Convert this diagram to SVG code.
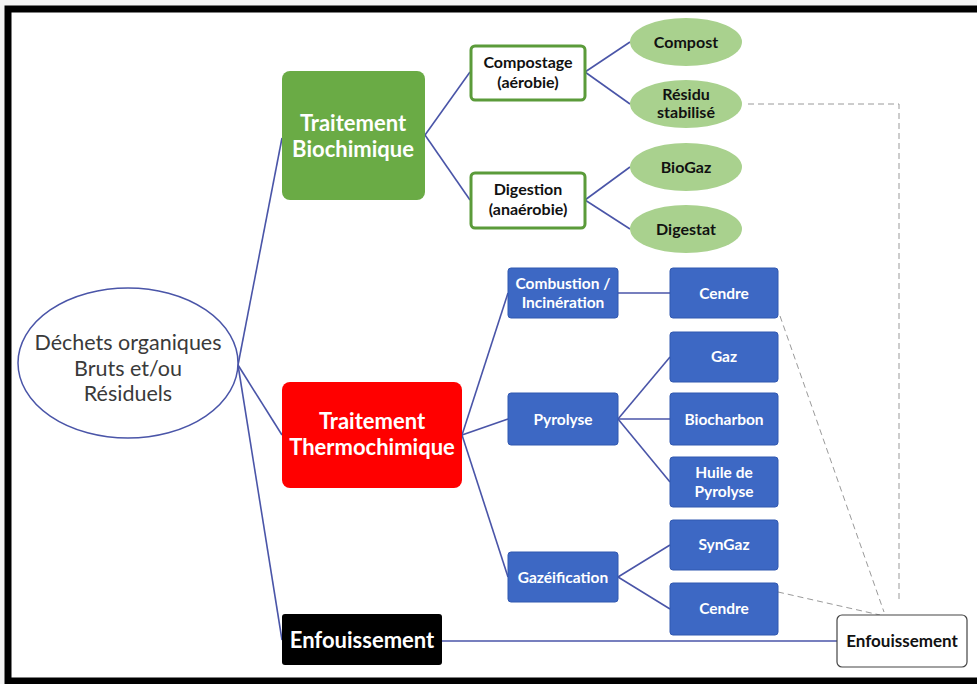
<svg xmlns="http://www.w3.org/2000/svg" width="977" height="684" viewBox="0 0 977 684">
  <defs>
    <style>
      .bg { fill: #ffffff; }
      .link { stroke: #4a55a8; stroke-width: 1.6; fill: none; }
      .dash { stroke: #9a9a9a; stroke-width: 1; stroke-dasharray: 6 4; fill: none; }
      .t { font-family: Lato, "Open Sans", "Liberation Sans", sans-serif; text-anchor: middle; }
      .big { font-size: 22px; font-weight: bold; fill: #ffffff; }
      .mid { font-size: 16px; font-weight: bold; fill: #111111; }
      .blue { fill: #3d68c4; stroke: #3158b0; stroke-width: 1; }
      .bt { font-size: 15.5px; font-weight: bold; fill: #ffffff; }
      .leaf { fill: #a9d18e; }
      .proc { fill: #ffffff; stroke: #5b9b3a; stroke-width: 3; }
    </style>
  </defs>

  <!-- page and frame -->
  <rect x="0" y="0" width="977" height="684" fill="#f4f4f4"/>
  <rect x="8" y="9" width="975" height="672" class="bg" stroke="#000" stroke-width="7"/>

  <!-- connectors -->
  <g id="connectors">
    <line class="link" x1="238" y1="365" x2="282" y2="138"/>
    <line class="link" x1="238" y1="365" x2="282" y2="435"/>
    <line class="link" x1="238" y1="365" x2="282" y2="640"/>

    <line class="link" x1="425" y1="135" x2="470" y2="72"/>
    <line class="link" x1="425" y1="135" x2="470" y2="200"/>
    <line class="link" x1="585" y1="72" x2="630" y2="42"/>
    <line class="link" x1="585" y1="72" x2="630" y2="104"/>
    <line class="link" x1="585" y1="200" x2="630" y2="167"/>
    <line class="link" x1="585" y1="200" x2="630" y2="229"/>

    <line class="link" x1="462" y1="435" x2="508" y2="293"/>
    <line class="link" x1="462" y1="435" x2="508" y2="419"/>
    <line class="link" x1="462" y1="435" x2="508" y2="577"/>
    <line class="link" x1="618" y1="293" x2="670" y2="293"/>
    <line class="link" x1="618" y1="419" x2="670" y2="357"/>
    <line class="link" x1="618" y1="419" x2="670" y2="419"/>
    <line class="link" x1="618" y1="419" x2="670" y2="482"/>
    <line class="link" x1="618" y1="577" x2="670" y2="545"/>
    <line class="link" x1="618" y1="577" x2="670" y2="609"/>

    <line class="link" x1="442" y1="641" x2="837" y2="641"/>

    <polyline class="dash" points="748,104 899,104 899,600"/>
    <line class="dash" x1="780" y1="316" x2="884" y2="612"/>
    <line class="dash" x1="778" y1="592" x2="880" y2="615"/>
  </g>

  <g id="dechets">
    <ellipse cx="128" cy="363" rx="110" ry="75" fill="#ffffff" stroke="#4a55a8" stroke-width="1.5"/>
    <text class="t" x="128" y="350" font-size="21.5" fill="#3a3a3a">Déchets organiques</text>
    <text class="t" x="128" y="376" font-size="21.5" fill="#3a3a3a">Bruts et/ou</text>
    <text class="t" x="128" y="401" font-size="21.5" fill="#3a3a3a">Résiduels</text>
  </g>

  <g id="biochimique">
    <rect x="282" y="71" width="143" height="129" rx="8" fill="#6aab45"/>
    <text class="t big" x="353" y="131">Traitement</text>
    <text class="t big" x="353" y="157">Biochimique</text>
  </g>

  <g id="thermochimique">
    <rect x="282" y="382" width="180" height="106" rx="8" fill="#ff0000"/>
    <text class="t big" x="372" y="429">Traitement</text>
    <text class="t big" x="372" y="455">Thermochimique</text>
  </g>

  <g id="enfouissement-traitement">
    <rect x="282" y="614" width="160" height="51" rx="3" fill="#000000"/>
    <text class="t big" x="362" y="648">Enfouissement</text>
  </g>

  <g id="compostage">
    <rect class="proc" x="471" y="46" width="114" height="54" rx="4"/>
    <text class="t mid" x="528" y="68">Compostage</text>
    <text class="t mid" x="528" y="88">(aérobie)</text>
  </g>

  <g id="digestion">
    <rect class="proc" x="471" y="173" width="114" height="55" rx="4"/>
    <text class="t mid" x="528" y="195">Digestion</text>
    <text class="t mid" x="528" y="215">(anaérobie)</text>
  </g>

  <g id="compost">
    <ellipse class="leaf" cx="686" cy="42" rx="56" ry="24"/>
    <text class="t mid" x="686" y="48">Compost</text>
  </g>
  <g id="residu">
    <ellipse class="leaf" cx="686" cy="104" rx="56" ry="24"/>
    <text class="t mid" x="686" y="100" font-size="14.5">Résidu</text>
    <text class="t mid" x="686" y="118" font-size="14.5">stabilisé</text>
  </g>
  <g id="biogaz">
    <ellipse class="leaf" cx="686" cy="167" rx="56" ry="24"/>
    <text class="t mid" x="686" y="173">BioGaz</text>
  </g>
  <g id="digestat">
    <ellipse class="leaf" cx="686" cy="229" rx="56" ry="24"/>
    <text class="t mid" x="686" y="235">Digestat</text>
  </g>

  <g id="combustion">
    <rect class="blue" x="508" y="268" width="110" height="50" rx="3"/>
    <text class="t bt" x="563" y="289">Combustion /</text>
    <text class="t bt" x="563" y="308">Incinération</text>
  </g>
  <g id="pyrolyse">
    <rect class="blue" x="508" y="393" width="110" height="52" rx="3"/>
    <text class="t bt" x="563" y="425">Pyrolyse</text>
  </g>
  <g id="gazeification">
    <rect class="blue" x="508" y="552" width="110" height="50" rx="3"/>
    <text class="t bt" x="563" y="583">Gazéification</text>
  </g>

  <g id="cendre-combustion">
    <rect class="blue" x="670" y="268" width="108" height="50" rx="3"/>
    <text class="t bt" x="724" y="299">Cendre</text>
  </g>
  <g id="gaz">
    <rect class="blue" x="670" y="332" width="108" height="50" rx="3"/>
    <text class="t bt" x="724" y="362">Gaz</text>
  </g>
  <g id="biocharbon">
    <rect class="blue" x="670" y="393" width="108" height="52" rx="3"/>
    <text class="t bt" x="724" y="425">Biocharbon</text>
  </g>
  <g id="huile">
    <rect class="blue" x="670" y="457" width="108" height="50" rx="3"/>
    <text class="t bt" x="724" y="478">Huile de</text>
    <text class="t bt" x="724" y="497">Pyrolyse</text>
  </g>
  <g id="syngaz">
    <rect class="blue" x="670" y="520" width="108" height="50" rx="3"/>
    <text class="t bt" x="724" y="550">SynGaz</text>
  </g>
  <g id="cendre-gazeification">
    <rect class="blue" x="670" y="583" width="108" height="52" rx="3"/>
    <text class="t bt" x="724" y="614">Cendre</text>
  </g>

  <g id="enfouissement-final">
    <rect x="837" y="615" width="130" height="52" rx="5" fill="#ffffff" stroke="#444444" stroke-width="1.2"/>
    <text class="t" x="902" y="647" font-size="17" font-weight="bold" fill="#111111">Enfouissement</text>
  </g>
</svg>
